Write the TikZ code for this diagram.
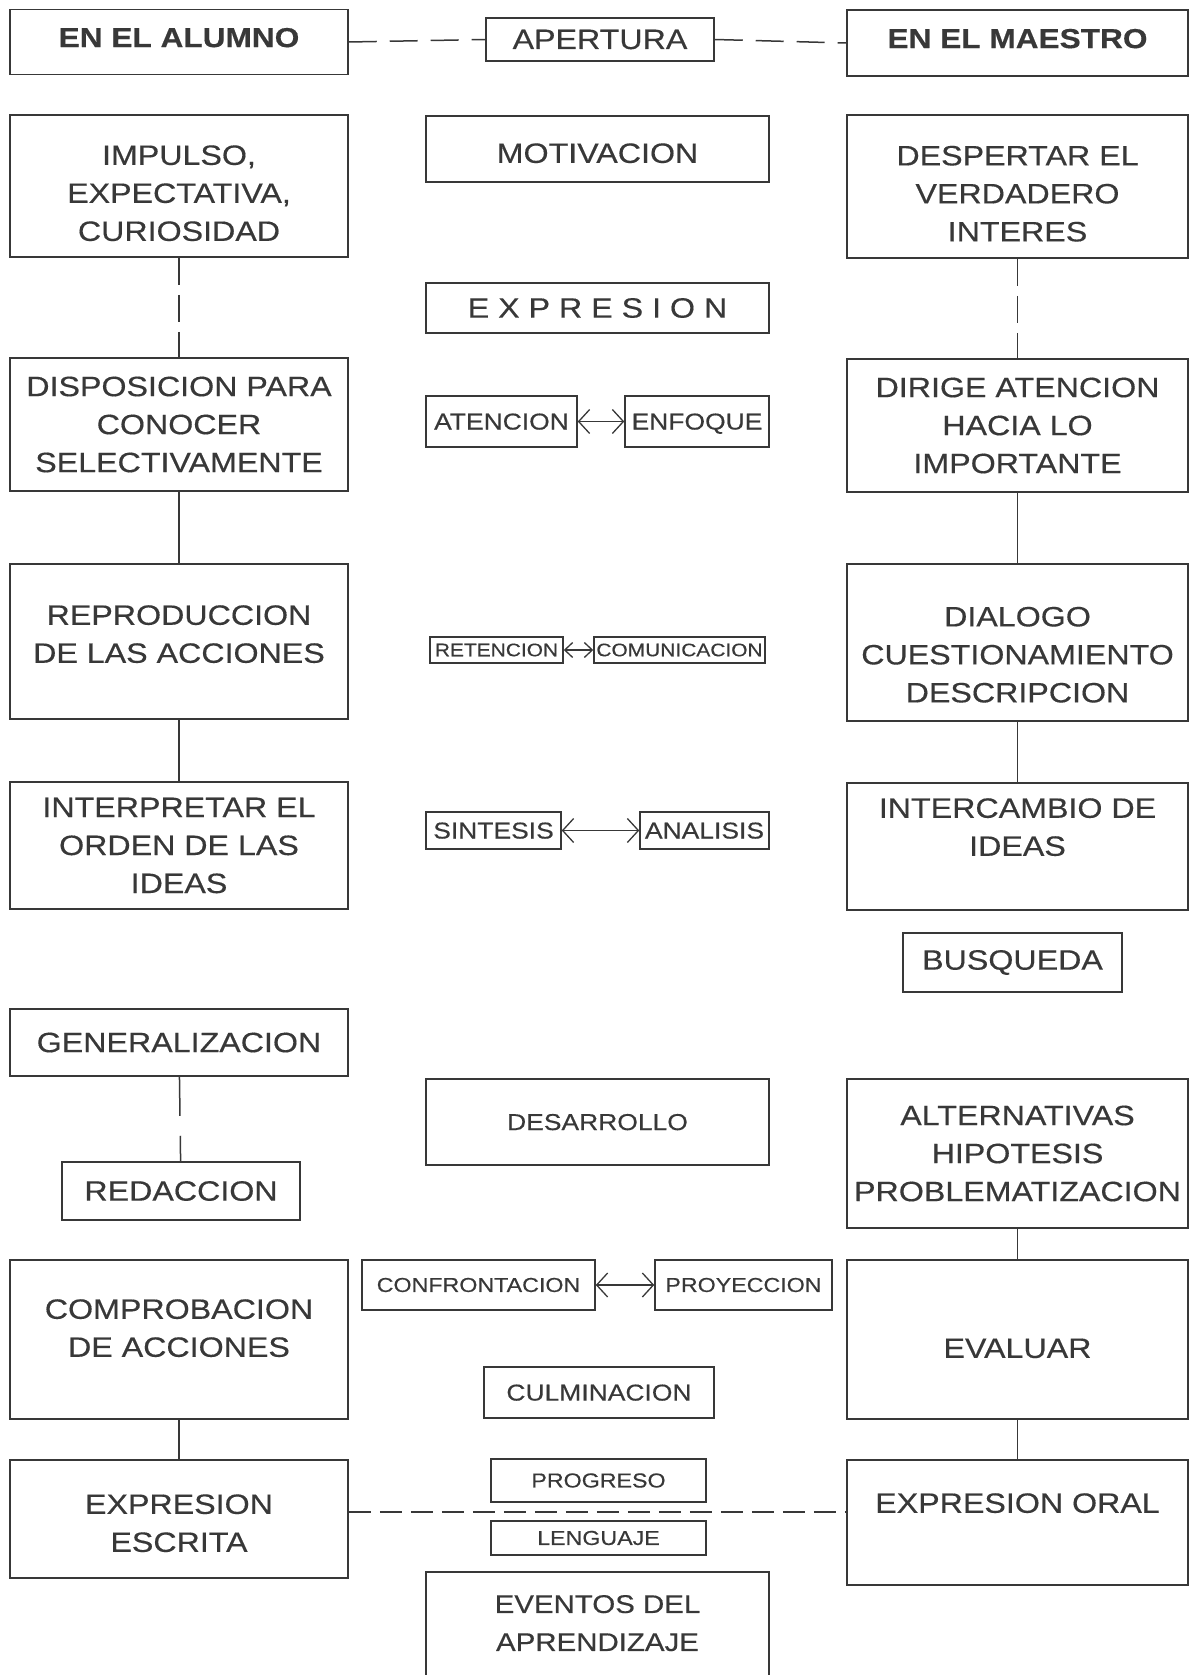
\documentclass[tikz,border=0pt]{standalone}
\usepackage{fontspec}
\setmainfont{Liberation Sans}[FakeStretch=1.15,FakeBold=0.4]
\usetikzlibrary{arrows.meta}
\definecolor{ink}{HTML}{383838}

\begin{document}
\begin{tikzpicture}[x=1pt,y=-1pt,
  box/.style={draw=ink,line width=1.5pt,text=ink,align=center,inner xsep=2pt,inner ysep=0pt,font=\fontsize{28}{38}\selectfont},
  lc/.style={box,minimum width=338pt}, rc/.style={box,minimum width=341pt}, cc/.style={box,minimum width=343pt},
  hdr/.style={font=\fontsize{27.5}{38}\selectfont\bfseries,text depth=9pt},
  mid/.style={font=\fontsize{23}{28}\selectfont,text depth=0pt}, sml/.style={font=\fontsize{18.2}{22}\selectfont},
  sml2/.style={font=\fontsize{20.2}{24}\selectfont},
  lnk/.style={draw=ink,line width=1.5pt}, dsh/.style={lnk,dash pattern=#1},
  arr/.style={lnk,line width=1.3pt,{Straight Barb[length=11pt,width=24pt]}-{Straight Barb[length=11pt,width=24pt]}}]
  \useasboundingbox (0,0) rectangle (1190,1675);
  \clip (0,0) rectangle (1190,1675);
  % alumno
  \node[lc,hdr,minimum height=65pt] (alu) at (179,42) {EN EL ALUMNO};
  \node[lc,minimum height=142pt,text height=110pt] (imp) at (179,186) {IMPULSO,\\EXPECTATIVA,\\CURIOSIDAD};
  \node[lc,minimum height=133pt] (dis) at (179,424.5) {DISPOSICION PARA\\CONOCER\\SELECTIVAMENTE};
  \node[lc,minimum height=155pt,text depth=15pt] (rep) at (179,641.5) {REPRODUCCION\\DE LAS ACCIONES};
  \node[lc,minimum height=127pt] (int) at (179,845.5) {INTERPRETAR EL\\ORDEN DE LAS\\IDEAS};
  \node[lc,minimum height=67pt] (gen) at (179,1042.5) {GENERALIZACION};
  \node[box,minimum width=238pt,minimum height=58pt] (red) at (181,1191) {REDACCION};
  \node[lc,minimum height=159pt,text depth=23pt] (cmp) at (179,1339.5) {COMPROBACION\\DE ACCIONES};
  \node[lc,minimum height=118pt,text height=66pt] (esc) at (179,1519) {EXPRESION\\ESCRITA};
  % maestro
  \node[rc,hdr,minimum height=66pt] (mae) at (1017.5,43) {EN EL MAESTRO};
  \node[rc,minimum height=143pt,text height=110pt] (des) at (1017.5,186.5) {DESPERTAR EL\\VERDADERO\\INTERES};
  \node[rc,minimum height=133pt] (dir) at (1017.5,425.5) {DIRIGE ATENCION\\HACIA LO\\IMPORTANTE};
  \node[rc,minimum height=157pt,text height=120pt] (dia) at (1017.5,642.5) {DIALOGO\\CUESTIONAMIENTO\\DESCRIPCION};
  \node[rc,minimum height=127pt,text depth=39pt] (itc) at (1017.5,846.5) {INTERCAMBIO DE\\IDEAS};
  \node[box,minimum width=219pt,minimum height=59pt] (bus) at (1012.5,962.5) {BUSQUEDA};
  \node[rc,minimum height=149pt] (alt) at (1017.5,1153.5) {ALTERNATIVAS\\HIPOTESIS\\PROBLEMATIZACION};
  \node[rc,minimum height=159pt,text height=37pt] (eva) at (1017.5,1339.5) {EVALUAR};
  \node[rc,minimum height=125pt,text depth=39pt] (ora) at (1017.5,1522.5) {EXPRESION ORAL};
  % centro
  \node[box,minimum width=228pt,minimum height=43pt] (ape) at (600,39.5) {APERTURA};
  \node[cc,minimum height=66pt,text height=28pt] (mot) at (597.5,149) {MOTIVACION};
  \node[cc,minimum height=50pt] (exp) at (597.5,308) {E X P R E S I O N};
  \node[box,mid,minimum width=151pt,minimum height=51pt] (ate) at (501.5,421.5) {ATENCION};
  \node[box,mid,minimum width=144pt,minimum height=51pt] (enf) at (697,421.5) {ENFOQUE};
  \node[box,sml,minimum width=133pt,minimum height=26pt] (ret) at (496.5,650) {RETENCION};
  \node[box,sml,minimum width=171pt,minimum height=26pt] (cmu) at (679.5,650) {COMUNICACION};
  \node[box,mid,minimum width=135pt,minimum height=37pt] (sin) at (493.5,830.5) {SINTESIS};
  \node[box,mid,minimum width=129pt,minimum height=37pt] (ana) at (704.5,830.5) {ANALISIS};
  \node[cc,mid,minimum height=86pt] (dsr) at (597.5,1122) {DESARROLLO};
  \node[box,sml2,minimum width=233pt,minimum height=50pt] (cnf) at (478.5,1285) {CONFRONTACION};
  \node[box,sml2,minimum width=177pt,minimum height=50pt] (pro) at (743.5,1285) {PROYECCION};
  \node[box,mid,minimum width=230pt,minimum height=51pt] (cul) at (599,1392.5) {CULMINACION};
  \node[box,sml2,minimum width=215pt,minimum height=43pt] (prg) at (598.5,1480.5) {PROGRESO};
  \node[box,sml2,minimum width=215pt,minimum height=34pt] (len) at (598.5,1538) {LENGUAJE};
  \node[cc,minimum height=110pt,text depth=8pt,font=\fontsize{25.6}{38}\selectfont] (evt) at (597.5,1627) {EVENTOS DEL\\APRENDIZAJE};
  % enlaces
  \draw[dsh={on 28pt off 13pt}] (alu.east) -- (ape.west); \draw[dsh={on 28pt off 13pt}] (ape.east) -- (mae.west);
  \draw[dsh={on 27pt off 10pt}] (imp) -- (dis); \draw[dsh={on 27pt off 10pt}] (des) -- (dir);
  \draw[dsh={on 39pt off 20pt}] (gen) -- (red);
  \draw[lnk] (dis) -- (rep); \draw[lnk] (rep) -- (int); \draw[lnk] (cmp) -- (esc);
  \draw[lnk] (dir) -- (dia); \draw[lnk] (dia) -- (itc); \draw[lnk] (alt) -- (eva); \draw[lnk] (eva) -- (ora);
  \draw[dsh={on 22pt off 9pt}] ([yshift=7pt]esc.east) -- ([yshift=7pt]esc.east -| ora.west);
  \draw[arr] (ate) -- (enf); \draw[arr] (sin) -- (ana); \draw[arr] (cnf) -- (pro);
  \draw[arr,{Straight Barb[length=8pt,width=15pt]}-{Straight Barb[length=8pt,width=15pt]}] (ret) -- (cmu);
\end{tikzpicture}
\end{document}
